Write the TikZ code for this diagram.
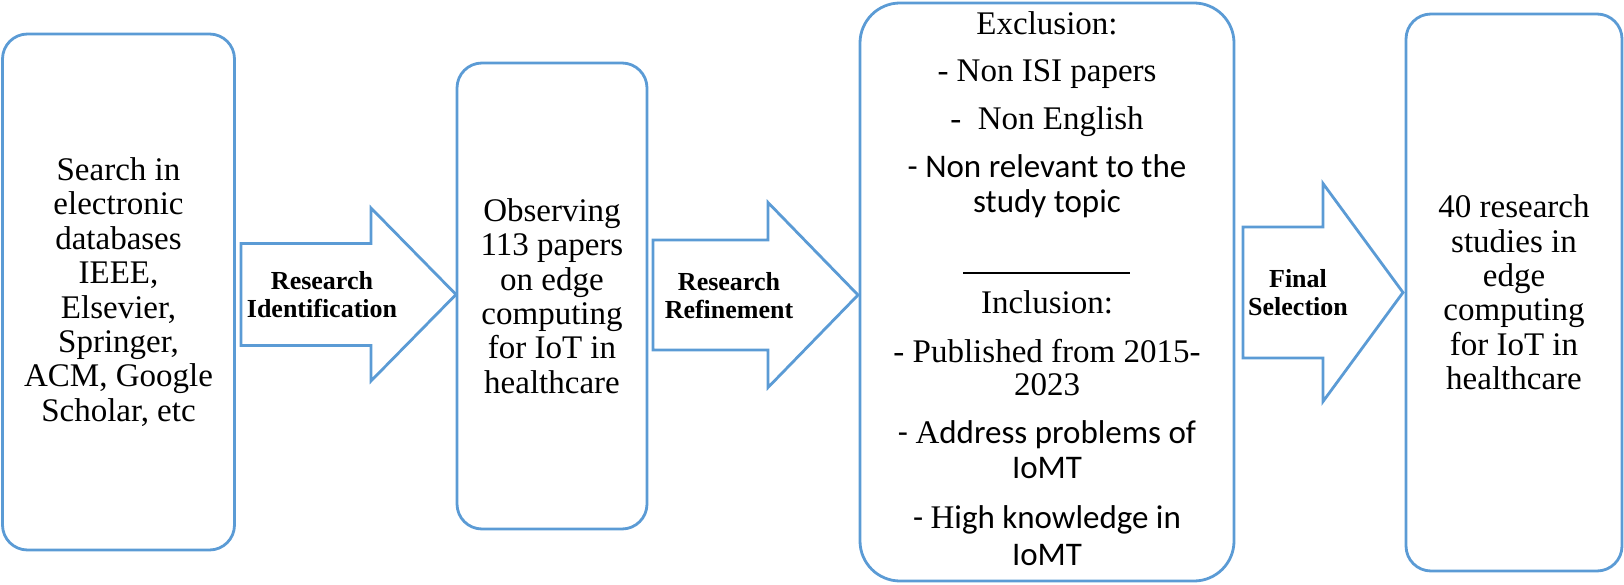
\documentclass[tikz,border=0pt]{standalone}
\usepackage{fontspec}
\setmainfont{Liberation Serif}
\newfontfamily\carl{Carlito}
\definecolor{bl}{RGB}{91,155,213}
\newcommand\blkarrow[6]{% x0, xbase, xtip, cy, half shaft, half head
  \draw[arr] (#1,#4-#5) -- (#2,#4-#5) -- (#2,#4-#6) -- (#3,#4) -- (#2,#4+#6) -- (#2,#4+#5) -- (#1,#4+#5) -- cycle;}
\begin{document}
\begin{tikzpicture}[x=1pt,y=-1pt,
  box/.style={draw=bl,line width=2.8pt,rounded corners=25pt,inner sep=0pt,align=center,
    font=\fontsize{33}{34.4}\selectfont},
  arr/.style={draw=bl,line width=2.8pt,line join=miter},
  lbl/.style={font=\fontsize{26}{28}\selectfont\bfseries,align=center,inner sep=0pt},
  ln/.style={anchor=base,inner sep=0pt,font=\fontsize{33}{34}\selectfont}]
\useasboundingbox (0,0) rectangle (1624,585);

\node[box,minimum width=232pt,minimum height=516pt] (b1) at (118.5,292)
  {Search in\\electronic\\databases\\IEEE,\\Elsevier,\\Springer,\\ACM, Google\\Scholar, etc};
\node[box,minimum width=190pt,minimum height=466pt] (b2) at (552,296)
  {Observing\\113 papers\\on edge\\computing\\for IoT in\\healthcare};
\node[box,rounded corners=40pt,minimum width=374pt,minimum height=578pt] (b3) at (1047,292) {};
\node[box,minimum width=216pt,minimum height=557pt] (b4) at (1514,292.5)
  {40 research\\studies in\\edge\\computing\\for IoT in\\healthcare};

\blkarrow{241}{371}{456}{294.5}{51}{86.5}
\blkarrow{653}{768}{858}{295}{55}{92.5}
\blkarrow{1243}{1323}{1403}{292.5}{65.5}{109}

\node[lbl] (l1) at (322,295) {Research\\Identification};
\node[lbl] (l2) at (729,296) {Research\\Refinement};
\node[lbl] (l3) at (1298,293) {Final\\Selection};

\node[ln] (x1) at (1047,35) {Exclusion:};
\node[ln] (x2) at (1047,82) {- Non ISI papers};
\node[ln] (x3) at (1047,130) {-\ \ Non English};
\node[ln] (x4) at (1047,178) {\carl - Non relevant to the};
\node[ln] (x5) at (1047,213) {\carl study topic};
\draw[line width=1.3pt] (963,273) -- (1130,273);
\node[ln] (x6) at (1047,313) {Inclusion:};
\node[ln] (x7) at (1047,362) {- Published from 2015-};
\node[ln] (x8) at (1047,395) {2023};
\node[ln] (x9) at (1047,443) {\carl - {\rmfamily A}ddress problems of};
\node[ln] (x10) at (1047,478) {\carl IoMT};
\node[ln] (x11) at (1047,528) {\carl - {\rmfamily H}igh knowledge in};
\node[ln] (x12) at (1047,565) {\carl IoMT};
\end{tikzpicture}
\end{document}
